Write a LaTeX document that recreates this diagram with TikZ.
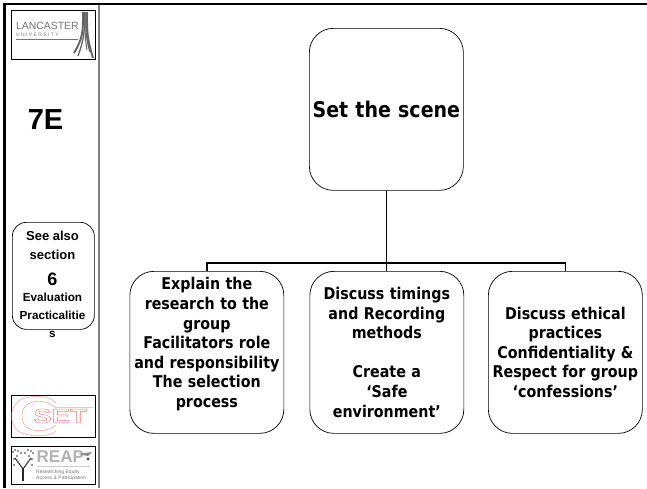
\documentclass[tikz,border=0pt]{standalone}
\usepackage{fontspec}
\setmainfont{DejaVu Sans}[FakeStretch=0.88]
\newfontfamily\arialf{Liberation Sans}
\tikzset{
  x=1pt,y=-1pt,
  rbox/.style={draw=black,line width=0.7pt,rounded corners=24pt,inner sep=0pt,anchor=north west,align=center,minimum width=154pt,minimum height=162pt,text width=152pt,font=\fontsize{16.2}{19.6}\selectfont\bfseries},
  sidetext/.style={inner sep=0pt,align=center},
  logobox/.style={draw=black,line width=1.3pt,anchor=north west,inner sep=0pt},
  conn/.style={draw=black,line width=1.3pt}
}
\begin{document}
\begin{tikzpicture}
\useasboundingbox (0,0) rectangle (647,488);
\fill[white] (0,0) rectangle (647,488);
% frame
\draw[black,line width=2.8pt] (4.5,488) -- (4.5,4) -- (647,4);
\draw[black!50,line width=1.2pt] (99,5) -- (99,488);
% Lancaster logo
\node[logobox,minimum width=84pt,minimum height=49pt] (lanc) at (11,10) {};
\node[inner sep=0pt,anchor=west,text=black!55,font=\arialf\fontsize{10.4}{11}\selectfont] (lanctext) at (16,26) {LANCASTER};
\node[inner sep=0pt,anchor=west,text=black!50,font=\arialf\fontsize{5}{6}\selectfont] (lancsub) at (16,35) {U N I V E R S I T Y};
\draw[black!55,line width=0.6pt] (16,39.5) -- (78,39.5);
\foreach \a/\b/\c/\w in {83/74/53/1.9,84.5/78/56/1.3,85/87/50/1.0,86/90/52/1.3,87/93/58/1.9}{\draw[black!60,line width=\w pt] (\a,12) .. controls (\a,32) and (\a,38) .. (\b,\c);}
% side column
\node[inner sep=0pt] (sevene) at (45.5,119.5) {\arialf\bfseries\fontsize{29}{30}\selectfont 7E};
\node[draw=black,line width=0.7pt,rounded corners=14pt,anchor=north west,minimum width=82pt,minimum height=107pt,inner sep=0pt] (see) at (12,222) {};
\node[sidetext,anchor=north,font=\arialf\bfseries\fontsize{13}{19}\selectfont] (seet) at (52.5,231) {See also\\section};
\node[sidetext,font=\arialf\bfseries\fontsize{18}{18}\selectfont] (six) at (52.5,279) {6};
\node[sidetext,anchor=north,font=\arialf\bfseries\fontsize{11.7}{18}\selectfont] (evalt) at (52.5,293) {Evaluation\\Practicalitie\\s};
% CSET logo
\node[logobox,minimum width=84pt,minimum height=42pt] (cset) at (11,395) {};
\begin{scope}
\clip (11.6,395.6) rectangle (94.4,436.4);
\draw[red!40,line width=0.5pt] (56,403) .. controls (50,395) and (32,395) .. (22,399) .. controls (8,405) and (8,428) .. (22,433) .. controls (32,437) and (50,437) .. (56,431);
\draw[red!40,line width=0.5pt] (56,408) .. controls (48,400) and (34,400) .. (28,404) .. controls (20,409) and (20,423) .. (28,428) .. controls (34,432) and (48,432) .. (56,425);
\draw[red!25,line width=0.5pt] (56,407) -- (93,407);
\end{scope}
\node[inner sep=0pt,anchor=west,xscale=1.45,yscale=1.05,transform shape] (csettext) at (33,416) {\special{pdf:code q 1 Tr 0.35 w 1 0.45 0.45 RG}\arialf\bfseries\fontsize{19}{20}\selectfont SET\special{pdf:code Q}};
% REAP logo
\node[logobox,minimum width=84pt,minimum height=38.5pt] (reap) at (11,445.5) {};
\node[inner sep=0pt,anchor=west,text=black!30,font=\arialf\bfseries\fontsize{17}{17}\selectfont] (reapt) at (36.5,457) {REAP};
\node[inner sep=0pt,anchor=west,text=black!55,font=\arialf\fontsize{5}{6}\selectfont,align=left] (reaps) at (36,475) {Researching Equity\\Access \& Participation};
\draw[black!20,line width=0.7pt] (37,466) -- (90,466);
\draw[black!85,line width=1.6pt] (23,481) -- (23,468);
\draw[black!85,line width=1pt] (15,458) -- (23,469) -- (31,458);
\foreach \p/\q in {13/452,15/450,18/451,21/453,25/453,28/450,31/451,33/453,14/459,32/459,17/456,29/456,14/465,32/465,18/462,28/462}{\fill[black!55] (\p,\q) circle (1.1);}
\fill[black!45] (78,454) -- (92,452) -- (88,456) -- cycle;
\fill[black!70] (88,459) circle (1.6);
% boxes
\node[rbox,font=\fontsize{21.6}{24}\selectfont\bfseries] (top) at (309,28) {Set the scene};
\node[rbox] (a) at (129.5,271) {Explain the\\research to the\\group\\Facilitators role\\and responsibility\\The selection\\process\\~};
\node[rbox] (b) at (309.5,271) {Discuss timings\\and Recording\\methods\\[19.6pt]Create a\\‘Safe\\environment’};
\node[rbox] (c) at (488,271) {Discuss ethical\\practices\\Confidentiality \&\\Respect for group\\‘confessions’};
% connectors
\coordinate (bus) at (top.south |- 0,263);
\draw[conn] (top.south) -- (bus) -- (bus |- b.north);
\draw[conn] (a.north) -- (a.north |- bus) -- (c.north |- bus) -- (c.north);
\end{tikzpicture}
\end{document}
